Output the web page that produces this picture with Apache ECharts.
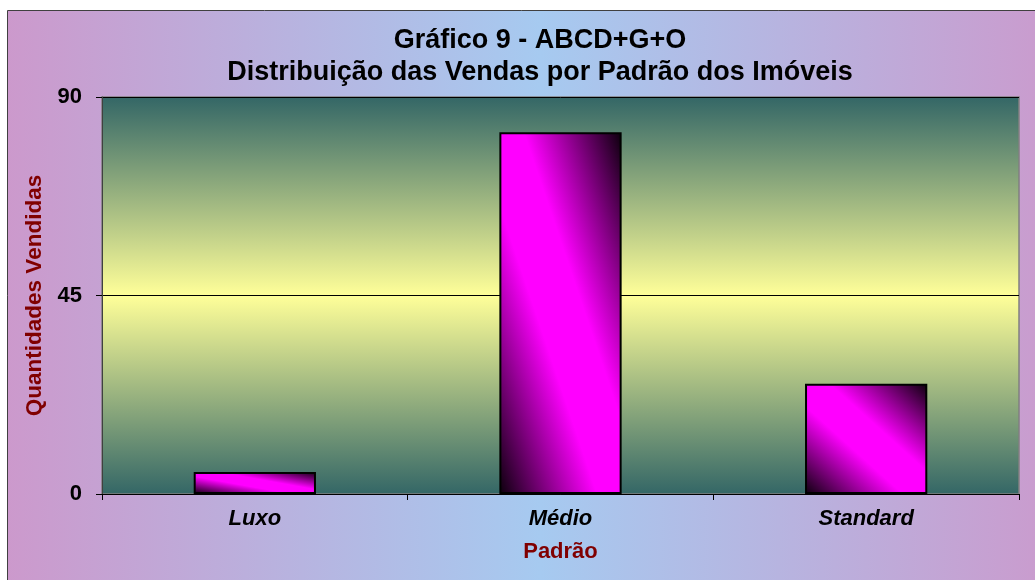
<!DOCTYPE html>
<html>
<head>
<meta charset="utf-8">
<script src="https://cdn.jsdelivr.net/npm/echarts@6/dist/echarts.min.js"></script>
<style>
  html, body { margin: 0; padding: 0; background: #fff; }
  #grafico { width: 1035px; height: 580px; }
</style>
</head>
<body>
<div id="grafico"></div>
<script>
// dados
var categorias = ['Luxo', 'Médio', 'Standard'];
var vendas = [5, 82, 25];
var eixoMin = 0;
var eixoMax = 90;
var eixoPasso = 45;

var fonte = 'Arial, "Liberation Sans", sans-serif';
var larguraBarra = 0.4; // fração da categoria

// degradê diagonal estilo Excel: escuro nos cantos sup. direito / inf. esquerdo
var paradas = [
  { offset: 0, color: '#0a000a' },
  { offset: 0.4, color: '#ff00ff' },
  { offset: 0.6, color: '#ff00ff' },
  { offset: 1, color: '#0a000a' }
];
function degradeDiagonal(w, h) {
  var d = w * w + h * h;
  return new echarts.graphic.LinearGradient(1, 0, 1 - 2 * h * h / d, 2 * w * w / d, paradas);
}

var myChart = echarts.init(document.getElementById('grafico'));

var option = {
  animation: false,
  graphic: [
    {
      type: 'rect',
      z: -10,
      silent: true,
      shape: { x: 7.5, y: 10.5, width: 1066, height: 600 },
      style: {
        fill: new echarts.graphic.LinearGradient(0, 0, 1, 0, [
          { offset: 0, color: '#cc99cc' },
          { offset: 0.5, color: '#a6caf0' },
          { offset: 1, color: '#cc99cc' }
        ]),
        stroke: '#404040',
        lineWidth: 1
      }
    },
    {
      type: 'text',
      x: 540,
      y: 41,
      style: {
        text: 'Gráfico 9 - ABCD+G+O',
        align: 'center',
        verticalAlign: 'middle',
        fontFamily: fonte,
        fontSize: 27,
        fontWeight: 'bold',
        fill: '#000'
      }
    },
    {
      type: 'text',
      x: 540,
      y: 73,
      style: {
        text: 'Distribuição das Vendas por Padrão dos Imóveis',
        align: 'center',
        verticalAlign: 'middle',
        fontFamily: fonte,
        fontSize: 27,
        fontWeight: 'bold',
        fill: '#000'
      }
    }
  ],
  grid: {
    left: 102,
    right: 16,
    top: 97,
    bottom: 86,
    show: true,
    borderColor: '#808080',
    borderWidth: 1.5,
    backgroundColor: new echarts.graphic.LinearGradient(0, 0, 0, 1, [
      { offset: 0, color: '#336666' },
      { offset: 0.5, color: '#ffff99' },
      { offset: 1, color: '#336666' }
    ])
  },
  xAxis: {
    type: 'category',
    data: categorias,
    name: 'Padrão',
    nameLocation: 'middle',
    nameGap: 47,
    nameTextStyle: { color: '#800000', fontFamily: fonte, fontSize: 22, fontWeight: 'bold' },
    axisLine: { lineStyle: { color: '#000', width: 1 } },
    axisTick: { show: true, length: 6, lineStyle: { color: '#000' } },
    axisLabel: {
      margin: 14,
      color: '#000',
      fontFamily: fonte,
      fontSize: 22,
      fontWeight: 'bold',
      fontStyle: 'italic'
    }
  },
  yAxis: {
    type: 'value',
    min: eixoMin,
    max: eixoMax,
    interval: eixoPasso,
    name: 'Quantidades Vendidas',
    nameLocation: 'middle',
    nameGap: 56,
    nameTextStyle: { color: '#800000', fontFamily: fonte, fontSize: 22.5, fontWeight: 'bold' },
    axisLine: { show: true, lineStyle: { color: '#404040', width: 1 } },
    axisTick: { show: true, length: 6, lineStyle: { color: '#000' } },
    axisLabel: {
      margin: 20,
      color: '#000',
      fontFamily: fonte,
      fontSize: 22,
      fontWeight: 'bold'
    },
    splitLine: { show: true, lineStyle: { color: '#000', width: 1 } }
  },
  series: [{
    type: 'bar',
    data: vendas,
    barWidth: (larguraBarra * 100) + '%',
    itemStyle: { color: '#ff00ff', borderColor: '#000', borderWidth: 2 }
  }]
};
myChart.setOption(option);

// agora que as escalas existem, monta o degradê de cada barra no tamanho dela
var banda = myChart.convertToPixel({ xAxisIndex: 0 }, 1) - myChart.convertToPixel({ xAxisIndex: 0 }, 0);
var base = myChart.convertToPixel({ yAxisIndex: 0 }, 0);
var itens = vendas.map(function (v) {
  var w = banda * larguraBarra;
  var h = Math.max(1, base - myChart.convertToPixel({ yAxisIndex: 0 }, v));
  return { value: v, itemStyle: { color: degradeDiagonal(w, h) } };
});
myChart.setOption({ series: [{ data: itens }] });
</script>
</body>
</html>
